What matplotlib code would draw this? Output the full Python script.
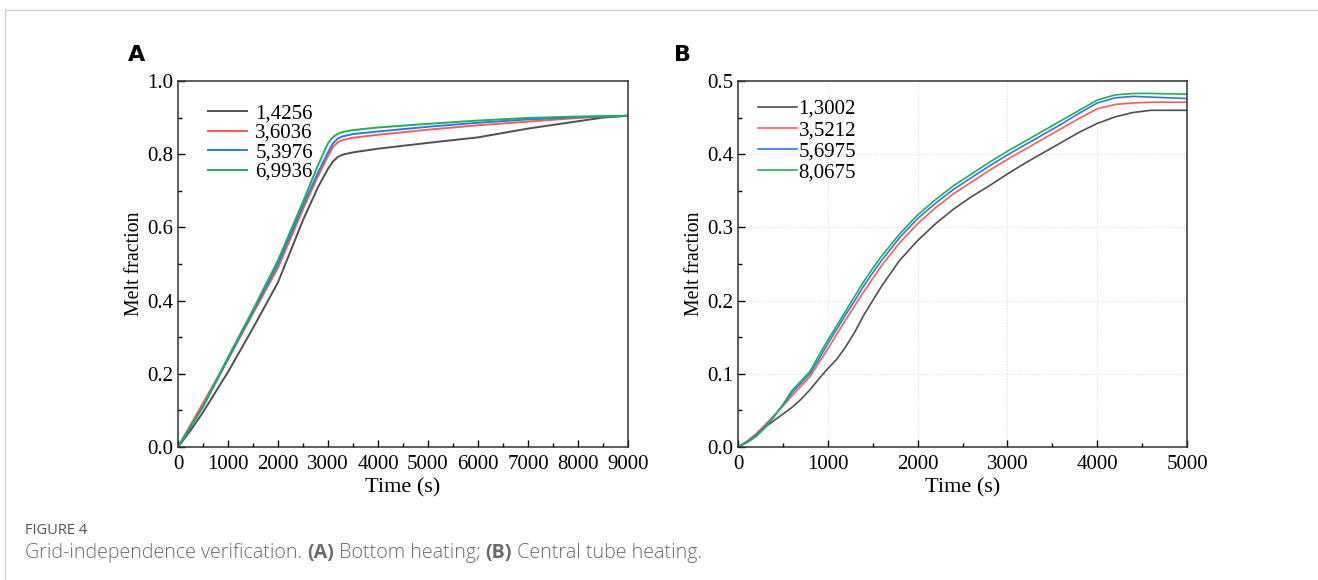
import matplotlib
matplotlib.use("Agg")
import matplotlib.pyplot as plt
from matplotlib.ticker import MultipleLocator, FormatStrFormatter
from matplotlib.lines import Line2D

# ---------------- Data: panel A (bottom heating) ----------------
time_a = [0, 250, 500, 750, 1000, 1500, 2000, 2500, 2800, 3000, 3100, 3200, 3300, 3500, 4000, 5000, 6000, 7000, 8000, 8500, 9000]
labels_a = ["1,4256", "3,6036", "5,3976", "6,9936"]
a_1 = [0, 0.045, 0.095, 0.15, 0.205, 0.325, 0.45, 0.62, 0.71, 0.76, 0.78, 0.793, 0.799, 0.805, 0.815, 0.831, 0.846, 0.870, 0.890, 0.900, 0.905]
a_2 = [0, 0.06, 0.12, 0.18, 0.24, 0.365, 0.49, 0.65, 0.74, 0.795, 0.82, 0.833, 0.839, 0.845, 0.853, 0.867, 0.879, 0.889, 0.899, 0.903, 0.905]
a_3 = [0, 0.055, 0.11, 0.175, 0.24, 0.37, 0.50, 0.66, 0.75, 0.805, 0.83, 0.843, 0.849, 0.855, 0.862, 0.875, 0.886, 0.895, 0.901, 0.903, 0.905]
a_4 = [0, 0.055, 0.11, 0.178, 0.245, 0.375, 0.51, 0.67, 0.77, 0.83, 0.847, 0.856, 0.861, 0.866, 0.873, 0.883, 0.892, 0.899, 0.903, 0.904, 0.905]

# ---------------- Data: panel B (central tube heating) ----------------
time_b = [0, 100, 200, 300, 400, 500, 600, 700, 800, 900, 1000, 1100, 1200, 1300, 1400, 1500, 1600,
          1800, 2000, 2200, 2400, 2600, 2800, 3000, 3200, 3400, 3600, 3800, 4000, 4200, 4400, 4600, 5000]
labels_b = ["1,3002", "3,5212", "5,6975", "8,0675"]
b_1 = [0, 0.007, 0.016, 0.027, 0.036, 0.045, 0.054, 0.065, 0.078, 0.093, 0.107, 0.120, 0.137, 0.157, 0.180, 0.200, 0.220,
       0.255, 0.282, 0.305, 0.325, 0.342, 0.357, 0.373, 0.388, 0.402, 0.416, 0.430, 0.442, 0.451, 0.457, 0.460, 0.460]
b_2 = [0, 0.008, 0.018, 0.030, 0.043, 0.056, 0.070, 0.083, 0.096, 0.115, 0.134, 0.154, 0.174, 0.193, 0.212, 0.230, 0.248,
       0.279, 0.305, 0.327, 0.346, 0.362, 0.378, 0.393, 0.407, 0.421, 0.435, 0.449, 0.462, 0.468, 0.470, 0.471, 0.471]
b_3 = [0, 0.007, 0.016, 0.028, 0.042, 0.057, 0.074, 0.087, 0.100, 0.120, 0.141, 0.161, 0.181, 0.200, 0.220, 0.238, 0.255,
       0.286, 0.312, 0.333, 0.352, 0.368, 0.384, 0.399, 0.413, 0.427, 0.441, 0.456, 0.470, 0.477, 0.479, 0.478, 0.476]
b_4 = [0, 0.006, 0.014, 0.026, 0.041, 0.058, 0.077, 0.090, 0.103, 0.125, 0.146, 0.166, 0.186, 0.206, 0.226, 0.244, 0.261,
       0.291, 0.317, 0.338, 0.357, 0.373, 0.389, 0.404, 0.418, 0.432, 0.446, 0.460, 0.474, 0.481, 0.483, 0.483, 0.482]

colors = ["#505050", "#ff5a5a", "#2a7ae8", "#1fae5f"]

W, H = 1318, 580
fig = plt.figure(figsize=(W / 100, H / 100), dpi=100)
serif = ["Liberation Serif", "DejaVu Serif"]


def style_axes(ax, xmax, xmaj, ymax, ymaj, grid):
    ax.set_xlim(0, xmax)
    ax.set_ylim(0, ymax)
    ax.xaxis.set_major_locator(MultipleLocator(xmaj))
    ax.xaxis.set_minor_locator(MultipleLocator(xmaj / 2))
    ax.yaxis.set_major_locator(MultipleLocator(ymaj))
    ax.yaxis.set_minor_locator(MultipleLocator(ymaj / 2))
    ax.yaxis.set_major_formatter(FormatStrFormatter("%.1f"))
    ax.tick_params(which="both", direction="in", top=False, right=False)
    ax.tick_params(which="major", length=5, width=1, labelsize=15)
    ax.tick_params(axis="x", which="major", pad=6)
    ax.tick_params(axis="y", which="major", pad=3.5)
    ax.tick_params(which="minor", length=3, width=1)
    for lab in ax.get_xticklabels() + ax.get_yticklabels():
        lab.set_family(serif)
    for s in ax.spines.values():
        s.set_linewidth(1.1)
        s.set_color("#333333")
    if grid:
        ax.grid(True, which="major", ls=":", color="#dddddd", lw=0.8)
    ax.set_xlabel("Time (s)", fontsize=16, family=serif, labelpad=2.5)
    ax.set_ylabel("Melt fraction", fontsize=14.3, family=serif, labelpad=2)


# Panel A
axA = fig.add_axes([178 / W, (H - 447) / H, 450 / W, 366 / H])
for ys, lab, c in zip([a_1, a_2, a_3, a_4], labels_a, colors):
    axA.plot(time_a, ys, color=c, lw=1.4, label=lab)
style_axes(axA, 9000, 1000, 1.0, 0.2, False)
axA.legend(loc="upper left", bbox_to_anchor=(0.035, 0.978), frameon=False,
           handlelength=1.85, handletextpad=0.4, labelspacing=0.0, borderpad=0.2,
           prop={"family": serif, "size": 15})

# Panel B
axB = fig.add_axes([738 / W, (H - 447) / H, 449 / W, 366 / H])
for ys, lab, c in zip([b_1, b_2, b_3, b_4], labels_b, colors):
    axB.plot(time_b, ys, color=c, lw=1.2, label=lab)
style_axes(axB, 5000, 1000, 0.5, 0.1, True)
axB.legend(loc="upper left", bbox_to_anchor=(0.012, 0.99), frameon=False,
           handlelength=1.85, handletextpad=0.1, labelspacing=0.08, borderpad=0.2,
           prop={"family": serif, "size": 15})

# Panel letters
fig.text(137 / W, 1 - 55 / H, "A", fontsize=16, fontweight="bold", family="DejaVu Sans",
         ha="center", va="center")
fig.text(682 / W, 1 - 55 / H, "B", fontsize=16, fontweight="bold", family="DejaVu Sans",
         ha="center", va="center")

# Caption
cap_font = "Open Sans"
fig.text(25 / W, 1 - 531 / H, "FIGURE 4", fontsize=10.5, color="#555555",
         family=cap_font, ha="left", va="center")
pieces = [("Grid-independence verification. ", "light"), ("(A)", "bold"),
          (" Bottom heating; ", "light"), ("(B)", "bold"), (" Central tube heating.", "light")]
renderer = fig.canvas.get_renderer()
x = 25
for txt, wt in pieces:
    t = fig.text(x / W, 1 - 553 / H, txt, fontsize=14.1, color="#6a6a6a", family=cap_font,
                 fontweight=wt, ha="left", va="center")
    bb = t.get_window_extent(renderer=renderer)
    x += bb.width

# Frame lines
fig.add_artist(Line2D([5 / W, 1], [1 - 10 / H, 1 - 10 / H], color="#d0d0d0", lw=1))
fig.add_artist(Line2D([5 / W, 5 / W], [0, 1 - 10 / H], color="#d0d0d0", lw=1))

fig.savefig("out.png", dpi=100)
